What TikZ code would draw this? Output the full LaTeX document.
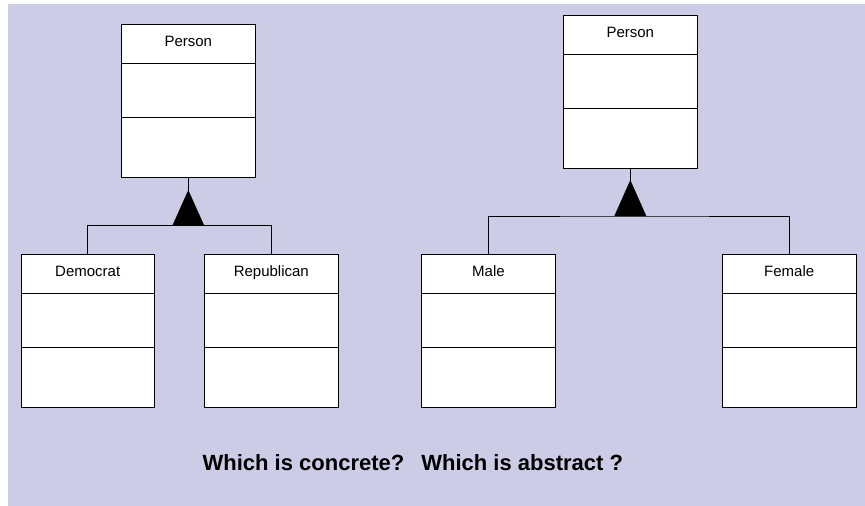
\documentclass[tikz,border=0pt]{standalone}
\usepackage{fontspec}
\setmainfont{Liberation Sans}
\usepackage{tikz}
\usetikzlibrary{arrows.meta}
\definecolor{bglilac}{RGB}{204,204,230}

\tikzset{
  classbox/.style={draw, fill=white, line width=0.8pt, inner sep=0pt,
    minimum width=133.5pt, minimum height=153.5pt,
    path picture={
      \draw[line width=0.8pt] ([yshift=-39pt]path picture bounding box.north west) -- ([yshift=-39pt]path picture bounding box.north east);
      \draw[line width=0.8pt] ([yshift=-93pt]path picture bounding box.north west) -- ([yshift=-93pt]path picture bounding box.north east);
    },
    label={[anchor=base, yshift=-22.5pt, font=\fontsize{15}{18}\selectfont]north:#1}},
  link/.style={line width=0.8pt},
}

\begin{document}
\begin{tikzpicture}[x=1pt, y=-1pt, >=Stealth]
            \useasboundingbox (0,0) rectangle (865,506);
            \fill [bglilac] (8,4) rectangle (865,506);
            % left hierarchy
            \node [classbox=Person] (p1) at (188.3,100.8) {};
            \node [classbox=Democrat] (dem) at (87.7,330.8) {};
            \node [classbox=Republican] (rep) at (271.3,330.8) {};
            \coordinate (j1) at (188.3,225.7);
            \draw [link] (p1.south) -- (j1);
            \draw [link] (dem.north) |- (j1) -| (rep.north);
            \fill (j1) +(-16,0) -- +(0,-35.7) -- +(16,0) -- cycle;
            % right hierarchy
            \node [classbox=Person] (p2) at (630.3,91.7) {};
            \node [classbox=Male] (male) at (488.5,330.8) {};
            \node [classbox=Female] (fem) at (789.2,330.8) {};
            \coordinate (j2) at (630.3,216);
            \draw [link] (p2.south) -- (j2);
            \draw [link] (male.north) |- (j2) -| (fem.north);
            \fill (j2) +(-16,0) -- +(0,-36) -- +(16,0) -- cycle;
            % question
            \node [anchor=base, font=\fontsize{22}{26}\selectfont\bfseries] (q) at (412.8,470) {Which is concrete?\hspace{17pt}Which is abstract ?};
        \end{tikzpicture}
\end{document}
